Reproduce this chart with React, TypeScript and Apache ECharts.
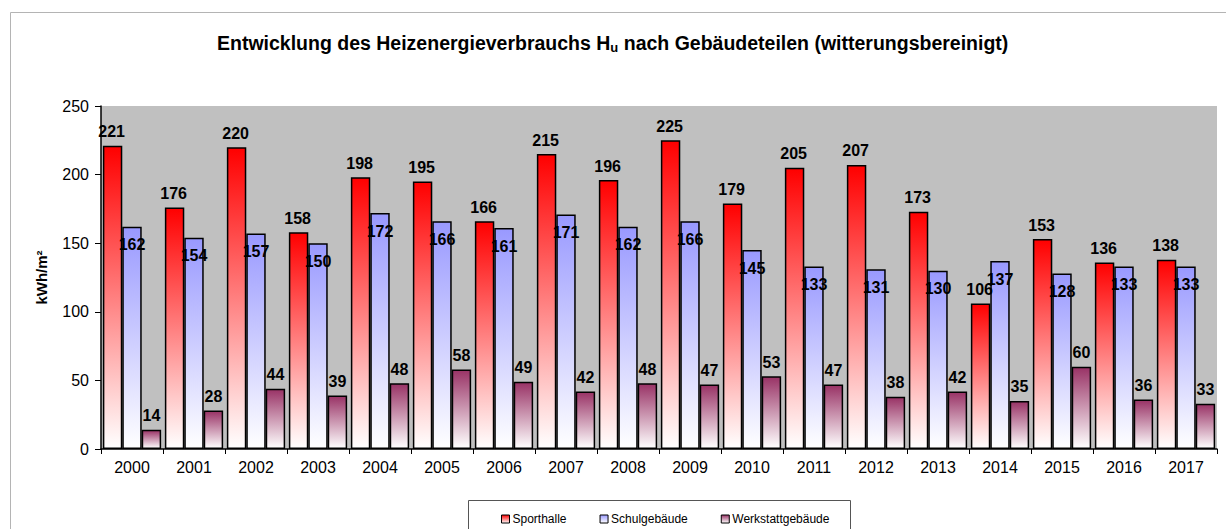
import React, { useEffect, useRef } from "react";
import * as echarts from "echarts";

const years = ["2000", "2001", "2002", "2003", "2004", "2005", "2006", "2007", "2008", "2009", "2010", "2011", "2012", "2013", "2014", "2015", "2016", "2017"];
const sporthalle = [221, 176, 220, 158, 198, 195, 166, 215, 196, 225, 179, 205, 207, 173, 106, 153, 136, 138];
const schulgebaeude = [162, 154, 157, 150, 172, 166, 161, 171, 162, 166, 145, 133, 131, 130, 137, 128, 133, 133];
const werkstatt = [14, 28, 44, 39, 48, 58, 49, 42, 48, 47, 53, 47, 38, 42, 35, 60, 36, 33];
const yTicks = { min: 0, max: 250, interval: 50 };

const FONT = 'Arial, "Liberation Sans", sans-serif';

const fade = (top: string) =>
  new echarts.graphic.LinearGradient(0, 0, 0, 1, [
    { offset: 0, color: top },
    { offset: 1, color: "#ffffff" },
  ]);

const labelBase = {
  show: true,
  color: "#000",
  fontFamily: FONT,
  fontWeight: "bold" as const,
  fontSize: 16,
};

export default function App() {
  const ref = useRef<HTMLDivElement>(null);

  useEffect(() => {
    if (!ref.current) return;
    const chart = echarts.init(ref.current, null, { renderer: "svg" });
    const bar = (name: string, data: number[], color: string, label: any) => ({
      name,
      type: "bar",
      data,
      barGap: "0%",
      barCategoryGap: "6%",
      itemStyle: { color: fade(color), borderColor: "#000", borderWidth: 1.5 },
      label: { ...labelBase, ...label },
    });
    chart.setOption({
      animation: false,
      backgroundColor: "#fff",
      textStyle: { fontFamily: FONT },
      title: {
        left: 212,
        top: 26,
        text: "{b|Entwicklung des Heizenergieverbrauchs H}{s|u}{b| nach Gebäudeteilen (witterungsbereinigt)}",
        textStyle: {
          rich: {
            b: { fontFamily: FONT, fontWeight: "bold", fontSize: 19.5, color: "#000" },
            s: { fontFamily: FONT, fontWeight: "bold", fontSize: 13, color: "#000", padding: [10, 0, 0, 0] },
          },
        },
      },
      graphic: [
        {
          type: "rect",
          shape: { x: 10.5, y: 12.5, width: 1240, height: 540 },
          style: { fill: "none", stroke: "#b4b4b4", lineWidth: 1 },
          silent: true,
        },
        {
          type: "rect",
          shape: { x: 468.5, y: 500.5, width: 382, height: 60 },
          style: { fill: "#fff", stroke: "#555", lineWidth: 1 },
          silent: true,
          z: -1,
        },
      ],
      legend: {
        left: 496,
        top: 508,
        itemWidth: 8,
        itemHeight: 8,
        itemGap: 33,
        icon: "rect",
        textStyle: { fontFamily: FONT, fontSize: 12, color: "#000", padding: [0, 0, 0, -2] },
        itemStyle: { borderColor: "#000", borderWidth: 1 },
        data: ["Sporthalle", "Schulgebäude", "Werkstattgebäude"],
      },
      grid: {
        left: 101,
        top: 106,
        right: 9,
        bottom: 80,
        show: true,
        backgroundColor: "#c0c0c0",
        borderWidth: 0,
      },
      xAxis: {
        type: "category",
        data: years,
        axisLine: { lineStyle: { color: "#000", width: 1.5 } },
        axisTick: { show: true, length: 5, lineStyle: { color: "#000" } },
        axisLabel: { color: "#000", fontFamily: FONT, fontSize: 16, margin: 10 },
      },
      yAxis: {
        type: "value",
        ...yTicks,
        name: "kWh/m²",
        nameLocation: "middle",
        nameGap: 52,
        nameRotate: 90,
        nameTextStyle: { color: "#000", fontFamily: FONT, fontWeight: "bold", fontSize: 15 },
        splitLine: { show: false },
        axisLine: { show: true, lineStyle: { color: "#000", width: 1.5 } },
        axisTick: { show: true, length: 6, lineStyle: { color: "#000" } },
        axisLabel: { color: "#000", fontFamily: FONT, fontSize: 16, margin: 12 },
      },
      series: [
        bar("Sporthalle", sporthalle, "#ff0000", { position: "top", distance: 6, offset: [-1, 0] }),
        bar("Schulgebäude", schulgebaeude, "#9999ff", { position: "insideTop", distance: 10 }),
        bar("Werkstattgebäude", werkstatt, "#993366", { position: "top", distance: 6 }),
      ],
    });
    return () => chart.dispose();
  }, []);

  return (
    <div
      ref={ref}
      style={{ position: "fixed", left: 0, top: 0, width: 1226, height: 529 }}
    />
  );
}
